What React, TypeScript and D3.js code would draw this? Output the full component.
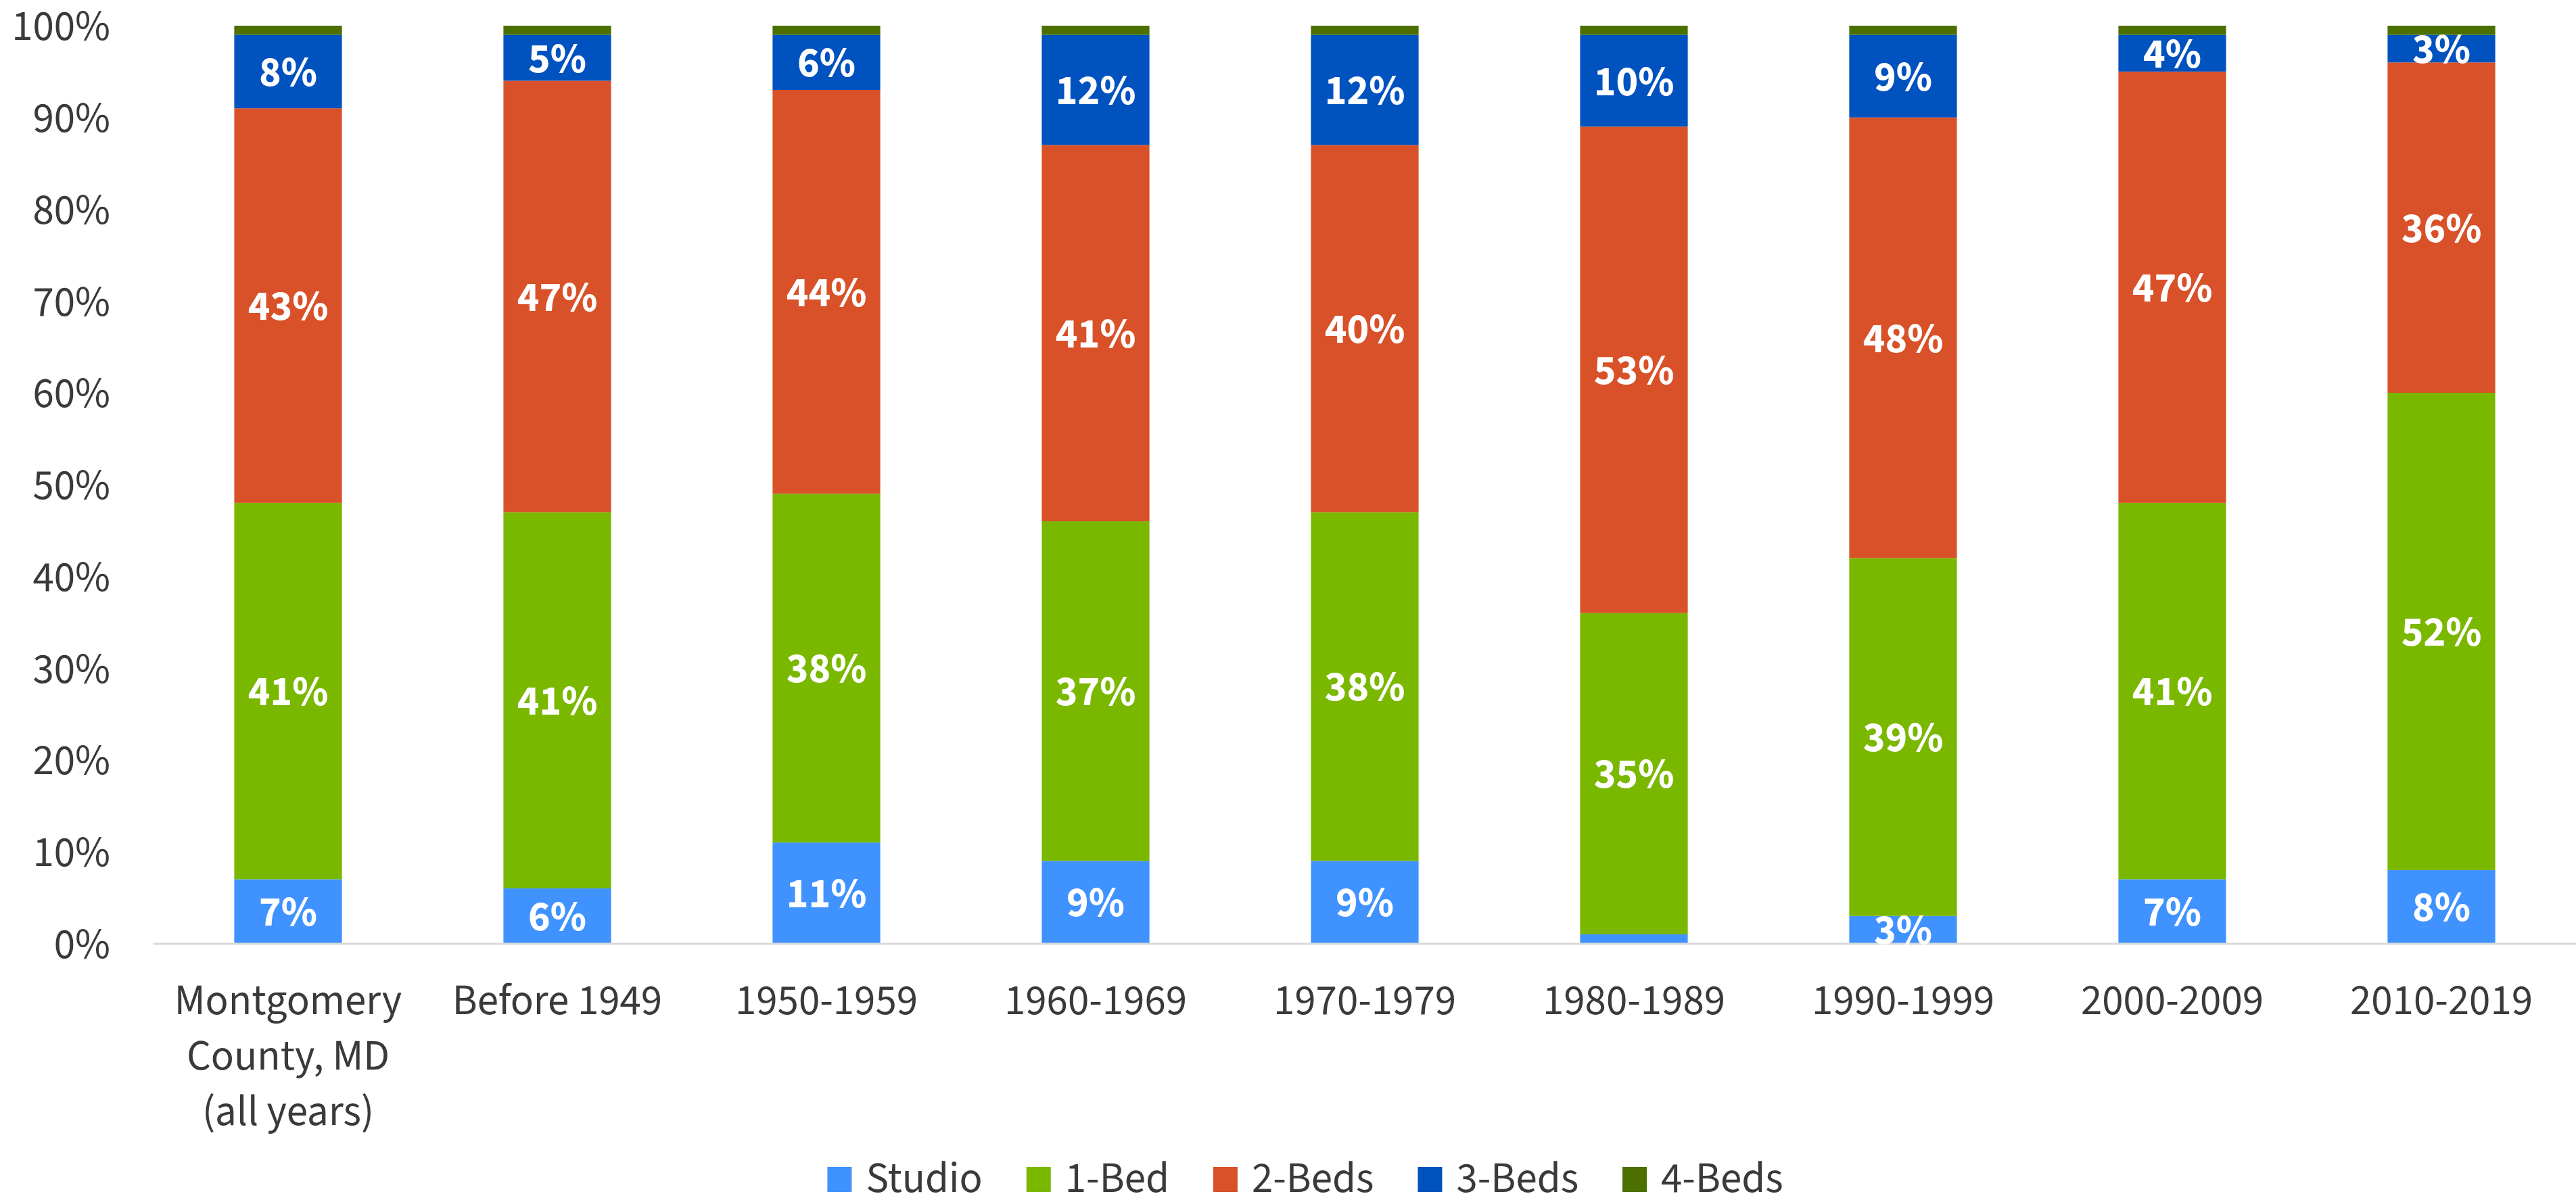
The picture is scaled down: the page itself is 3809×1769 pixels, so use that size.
import React, { useEffect, useRef } from "react";
import * as d3 from "d3";

const categories = [
  "Montgomery\nCounty, MD\n(all years)",
  "Before 1949",
  "1950-1959",
  "1960-1969",
  "1970-1979",
  "1980-1989",
  "1990-1999",
  "2000-2009",
  "2010-2019",
];
const seriesNames = ["Studio", "1-Bed", "2-Beds", "3-Beds", "4-Beds"];
const studio = [7, 6, 11, 9, 9, 1, 3, 7, 8];
const oneBed = [41, 41, 38, 37, 38, 35, 39, 41, 52];
const twoBeds = [43, 47, 44, 41, 40, 53, 48, 47, 36];
const threeBeds = [8, 5, 6, 12, 12, 10, 9, 4, 3];
const fourBeds = [1, 1, 1, 1, 1, 1, 1, 1, 1];
const yTicks = [0, 10, 20, 30, 40, 50, 60, 70, 80, 90, 100];
const colors = ["#4092FF", "#7AB800", "#D95128", "#0052BF", "#4B7000"];

const W = 3809;
const H = 1769;
const FONT = "'Source Sans Pro', 'Source Sans 3', Lato, sans-serif";
const FS = 63;

export default function App() {
  const ref = useRef<SVGSVGElement>(null);

  useEffect(() => {
    const svg = d3.select(ref.current);
    svg.selectAll("*").remove();

    const left = 227;
    const x = d3
      .scaleBand<string>()
      .domain(categories)
      .range([left, W])
      .paddingInner(0.6)
      .paddingOuter(0.3);
    const y = d3.scaleLinear().domain([0, 100]).range([1395.5, 38]);

    const series = [studio, oneBed, twoBeds, threeBeds, fourBeds];
    const rows = categories.map((c, i) => {
      const r: any = { cat: c };
      seriesNames.forEach((s, k) => (r[s] = series[k][i]));
      return r;
    });
    const stacked = d3.stack<any>().keys(seriesNames)(rows);

    svg
      .append("defs")
      .append("clipPath")
      .attr("id", "plotclip")
      .append("rect")
      .attr("x", left)
      .attr("y", 0)
      .attr("width", W - left)
      .attr("height", y(0) + 4);

    // y axis labels
    svg
      .append("g")
      .selectAll("text")
      .data(yTicks)
      .join("text")
      .attr("x", 163)
      .attr("y", (d) => y(d))
      .attr("dy", "0.34em")
      .attr("text-anchor", "end")
      .attr("font-family", FONT)
      .attr("font-size", FS)
      .attr("fill", "#3a3a3a")
      .text((d) => d + "%");

    // bars
    const g = svg.append("g");
    stacked.forEach((layer, k) => {
      g.append("g")
        .selectAll("rect")
        .data(layer)
        .join("rect")
        .attr("x", (d: any) => x(d.data.cat)!)
        .attr("width", x.bandwidth())
        .attr("y", (d: any) => y(d[1]))
        .attr("height", (d: any) => y(d[0]) - y(d[1]))
        .attr("fill", colors[k]);
    });

    // axis line
    svg
      .append("line")
      .attr("x1", left)
      .attr("x2", W)
      .attr("y1", y(0) + 0.5)
      .attr("y2", y(0) + 0.5)
      .attr("stroke", "#d9d9d9")
      .attr("stroke-width", 3);

    // data labels
    const lg = svg.append("g").attr("clip-path", "url(#plotclip)");
    stacked.forEach((layer, k) => {
      if (seriesNames[k] === "4-Beds") return;
      lg.append("g")
        .selectAll("text")
        .data(layer.filter((d: any) => d[1] - d[0] >= 2))
        .join("text")
        .attr("x", (d: any) => x(d.data.cat)! + x.bandwidth() / 2)
        .attr("y", (d: any) => y((d[0] + d[1]) / 2))
        .attr("dy", "0.34em")
        .attr("text-anchor", "middle")
        .attr("font-family", FONT)
        .attr("font-weight", "bold")
        .attr("font-size", 62)
        .attr("fill", "#ffffff")
        .text((d: any) => d[1] - d[0] + "%");
    });

    // category labels
    const cg = svg.append("g");
    categories.forEach((c) => {
      const lines = c.split("\n");
      const t = cg
        .append("text")
        .attr("text-anchor", "middle")
        .attr("font-family", FONT)
        .attr("font-size", FS)
        .attr("fill", "#3a3a3a");
      lines.forEach((ln, i) => {
        t.append("tspan")
          .attr("x", x(c)! + x.bandwidth() / 2)
          .attr("y", 1500 + i * 82)
          .text(ln);
      });
    });

    // legend
    const leg = svg.append("g");
    const sq = 36;
    const gapText = 21;
    const gapItem = 65;
    const items: any[] = [];
    seriesNames.forEach((s, k) => {
      const it = leg.append("g");
      it.append("rect")
        .attr("x", 0)
        .attr("y", 1726)
        .attr("width", sq)
        .attr("height", 37)
        .attr("fill", colors[k]);
      const tx = it
        .append("text")
        .attr("x", sq + gapText)
        .attr("y", 1763)
        .attr("font-family", FONT)
        .attr("font-size", FS)
        .attr("fill", "#3a3a3a")
        .text(s);
      const w = sq + gapText + (tx.node() as SVGTextElement).getComputedTextLength();
      items.push({ it, w });
    });
    const total = items.reduce((a, b) => a + b.w, 0) + gapItem * (items.length - 1);
    let cx = 1930 - total / 2;
    items.forEach((o) => {
      o.it.attr("transform", `translate(${cx},0)`);
      cx += o.w + gapItem;
    });
  }, []);

  return (
    <svg
      ref={ref}
      width={W}
      height={H}
      style={{ position: "fixed", left: 0, top: 0, background: "#fff", display: "block" }}
    />
  );
}
